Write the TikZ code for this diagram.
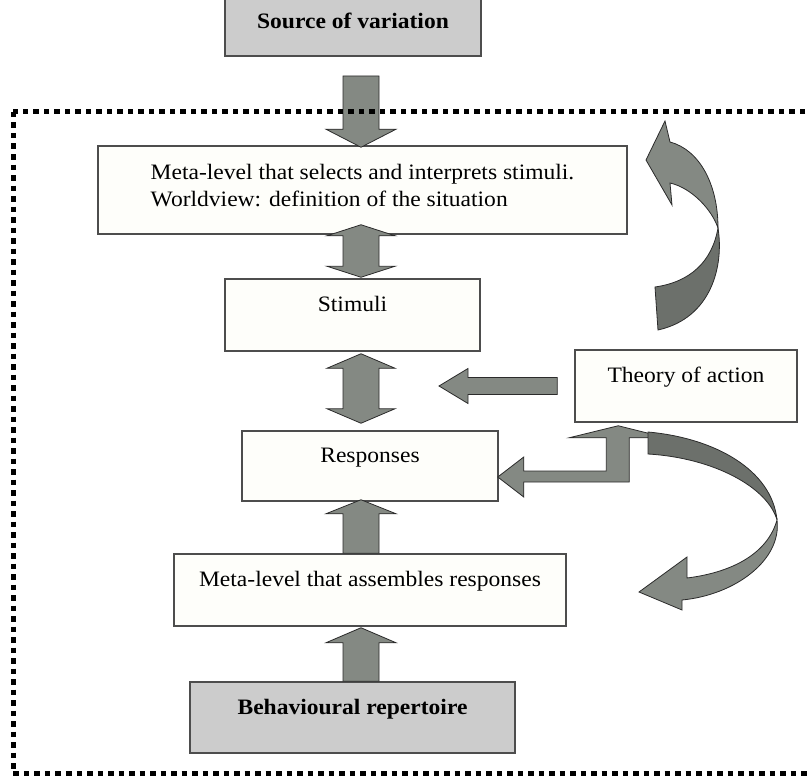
\documentclass[tikz,border=0pt]{standalone}
\usepackage{fontspec}
\setmainfont[FakeStretch=1.07]{Liberation Serif}
\usetikzlibrary{calc}

\definecolor{boxfill}{HTML}{FEFEFA}
\definecolor{greyfill}{HTML}{CCCCCC}
\definecolor{boxline}{HTML}{4D4D4D}
\definecolor{arrowfill}{HTML}{848983}
\definecolor{arrowdark}{HTML}{6C706B}
\definecolor{arrowline}{HTML}{2B2B2B}

\tikzset{
  % vertical block arrow, tail at start, tip at target (pointing down)
  downblock/.style={to path={let \p1=(\tikztostart), \p2=(\tikztotarget) in
    (\x1-18pt,\y1) -- (\x1-18pt,\y2+#1) -- (\x1-35pt,\y2+#1) -- (\x1,\y2)
    -- (\x1+35pt,\y2+#1) -- (\x1+18pt,\y2+#1) -- (\x1+18pt,\y1) -- cycle}},
  % vertical block arrow pointing up
  upblock/.style={to path={let \p1=(\tikztostart), \p2=(\tikztotarget) in
    (\x1-18pt,\y1) -- (\x1-18pt,\y2-#1) -- (\x1-35pt,\y2-#1) -- (\x1,\y2)
    -- (\x1+35pt,\y2-#1) -- (\x1+18pt,\y2-#1) -- (\x1+18pt,\y1) -- cycle}},
  % vertical block arrow with a head at both ends (start = upper tip)
  bothblock/.style={to path={let \p1=(\tikztostart), \p2=(\tikztotarget) in
    (\x1,\y1) -- (\x1+34pt,\y1-#1) -- (\x1+18pt,\y1-#1) -- (\x1+18pt,\y2+#1)
    -- (\x1+34pt,\y2+#1) -- (\x1,\y2) -- (\x1-34pt,\y2+#1) -- (\x1-18pt,\y2+#1)
    -- (\x1-18pt,\y1-#1) -- (\x1-34pt,\y1-#1) -- cycle}},
  % horizontal block arrow pointing left
  leftblock/.style={to path={let \p1=(\tikztostart), \p2=(\tikztotarget) in
    (\x1,\y2+8.5pt) -- (\x2+29pt,\y2+8.5pt) -- (\x2+29pt,\y2+17.5pt) -- (\x2,\y2)
    -- (\x2+29pt,\y2-17.5pt) -- (\x2+29pt,\y2-8.5pt) -- (\x1,\y2-8.5pt) -- cycle}},
}

\begin{document}
\begin{tikzpicture}[x=1pt,y=-1pt,
  every node/.style={font=\fontsize{22}{27}\selectfont},
  panel/.style={draw=boxline, line width=1.5pt, fill=boxfill, inner sep=0pt},
  greypanel/.style={panel, fill=greyfill, font=\fontsize{22}{27}\selectfont\bfseries},
  oneline/.style={text height=15pt, text depth=22pt},
  barrow/.style={fill=arrowfill, draw=arrowline, line width=0.8pt, line join=miter},
  darkband/.style={barrow, fill=arrowdark},
  frame/.style={line width=5pt, dash pattern=on 5.5pt off 5pt},
]
\useasboundingbox (0,0) rectangle (807,776);

% boxes
\node[greypanel, minimum width=256, minimum height=70, anchor=south] (src) at (353,57) {Source of variation};
\node[panel, minimum width=529, minimum height=88, align=left] (meta1) at (362.5,190)
  {Meta-level that selects and interprets stimuli.\\Worldview: definition of the situation\rule[-10pt]{0pt}{10pt}};
\node[panel, oneline, minimum width=255, minimum height=72] (stim) at (352.5,315) {Stimuli};
\node[panel, oneline, minimum width=222, minimum height=72] (theory) at (686,386) {Theory of action};
\node[panel, oneline, minimum width=256, minimum height=70] (resp) at (370,466) {Responses};
\node[panel, oneline, minimum width=392, minimum height=72] (meta2) at (370,590) {Meta-level that assembles responses};
\node[greypanel, oneline, minimum width=325, minimum height=71] (behav) at (352.5,717.5) {Behavioural repertoire};

% central column of block arrows
\coordinate (axis) at (361,0);
\coordinate (d1s) at ($(axis |- src.south)+(0,19)$);
\coordinate (d1e) at ($(axis |- meta1.north)+(0,2)$);
\coordinate (b1s) at ($(axis |- meta1.south)+(0,-10)$);
\coordinate (b1e) at ($(axis |- stim.north)+(0,-1)$);
\coordinate (b2s) at ($(axis |- stim.south)+(0,2)$);
\coordinate (b2e) at ($(axis |- resp.north)+(0,-7)$);
\coordinate (u3s) at (axis |- meta2.north);
\coordinate (u3e) at ($(axis |- resp.south)+(0,-2)$);
\coordinate (u4s) at (axis |- behav.north);
\coordinate (u4e) at ($(axis |- meta2.south)+(0,1)$);

\draw[barrow] (d1s) to[downblock=18pt] (d1e);
\draw[barrow] (b1s) to[bothblock=11pt] (b1e);
\draw[barrow] (b2s) to[bothblock=14.5pt] (b2e);
\draw[barrow] (u3s) to[upblock=14pt] (u3e);
\draw[barrow] (u4s) to[upblock=15pt] (u4e);

% arrow leaving the theory of action
\coordinate (l1s) at ($(theory.west)+(-17,0)$);
\coordinate (l1e) at (439,386);
\draw[barrow] (l1s) to[leftblock] (l1e);

% bent two-headed arrow between theory of action and responses
\coordinate (bt) at ($(theory.south west)+(44,3)$);
\coordinate (bl) at ($(resp.east)+(-1,11)$);
\draw[barrow] (bt) -- ++(48,12) -- ++(-37,0) -- ($(bt |- bl)+(11,5)$)
  -- ($(bl)+(26,5)$) -- ($(bl)+(26,20)$) -- (bl) -- ($(bl)+(26,-20)$)
  -- ($(bl)+(26,-6)$) -- ($(bt |- bl)+(-12,-6)$) -- ($(bt)+(-12,12)$)
  -- ($(bt)+(-49,12)$) -- cycle;

% twisted ribbon arrow rising towards the upper meta-level
\draw[darkband] (718,228) .. controls (724,265) and (712,318) .. (658,330)
  -- (655,287) .. controls (690,282) and (712,262) .. (718,228) -- cycle;
\draw[barrow] (665,121) -- (670,142) .. controls (700,150) and (718,185) .. (718,228)
  .. controls (712,210) and (692,188) .. (670,183) -- (672,205) -- (646,160) -- cycle;

% twisted ribbon arrow descending towards the lower meta-level
\draw[darkband] (648,432) .. controls (715,438) and (772,470) .. (777,520)
  .. controls (768,488) and (715,458) .. (648,454) -- cycle;
\draw[barrow] (777,520) .. controls (782,560) and (735,595) .. (682,600)
  -- (682,610) -- (639,592) -- (687,557) -- (687,578)
  .. controls (735,572) and (768,552) .. (777,520) -- cycle;

% dotted system boundary
\draw[frame] (13,112) rectangle (840,773);
\end{tikzpicture}
\end{document}
